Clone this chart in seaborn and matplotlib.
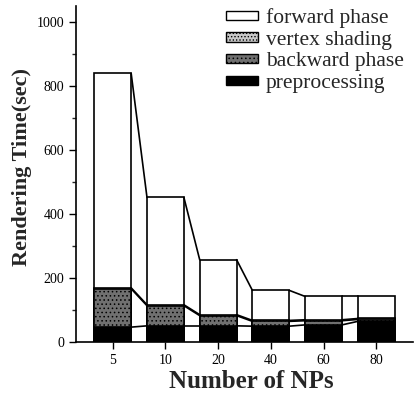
import numpy as np
import pandas as pd
import matplotlib.pyplot as plt
import seaborn as sns
from matplotlib.patches import Patch
from matplotlib.ticker import MultipleLocator

# =====================================================
# Data
# =====================================================
nps = ["5", "10", "20", "40", "60", "80"]
preprocessing = [46, 50, 50, 49, 53, 64]
backward_phase = [120, 63, 32, 15, 13, 6]
vertex_shading = [3, 3, 3, 3, 3, 3]
forward_phase = [671, 336, 172, 94, 73, 69]

layers = ["preprocessing", "backward phase", "vertex shading", "forward phase"]
legend_order = ["forward phase", "vertex shading", "backward phase", "preprocessing"]
styles = {
    "forward phase": dict(color="white", hatch=None),
    "vertex shading": dict(color="#c8c8c8", hatch="....."),
    "backward phase": dict(color="#707070", hatch="...."),
    "preprocessing": dict(color="black", hatch=None),
}

df = pd.DataFrame({
    "NPs": nps,
    "preprocessing": preprocessing,
    "backward phase": backward_phase,
    "vertex shading": vertex_shading,
    "forward phase": forward_phase,
})
cum = df[layers].cumsum(axis=1)

# =====================================================
# Plot
# =====================================================
sns.set_style("ticks")
plt.rcParams['font.family'] = ['Liberation Serif', 'DejaVu Serif']
plt.rcParams['hatch.linewidth'] = 0.6

fig = plt.figure(figsize=(4.19, 3.97), dpi=100)
ax = fig.add_axes([0.181, 0.139, 0.805, 0.845])

# stacked bars: draw cumulative totals from top layer down
for layer in reversed(layers):
    st = styles[layer]
    sns.barplot(x=df["NPs"], y=cum[layer], order=nps, ax=ax, width=0.7,
                color=st["color"], saturation=1, edgecolor="black",
                linewidth=1.2, hatch=st["hatch"])

# connector lines between neighbouring bars at each layer boundary
n = len(nps)
edges = [(i - 0.35, i + 0.35) for i in range(n)]
for layer in layers:
    vals = cum[layer].values
    for i in range(n - 1):
        ax.plot([edges[i][1], edges[i + 1][0]], [vals[i], vals[i + 1]],
                color="black", lw=1.2, zorder=3)

ax.set_xlim(-0.7, 5.7)
ax.set_ylim(0, 1050)
ax.yaxis.set_major_locator(MultipleLocator(200))
ax.yaxis.set_minor_locator(MultipleLocator(100))
ax.tick_params(axis="both", labelsize=10, length=5, width=1, colors="black")
ax.tick_params(axis="y", which="minor", length=3, width=1)
sns.despine(ax=ax)
for s in ["left", "bottom"]:
    ax.spines[s].set_linewidth(1.2)
    ax.spines[s].set_color("black")

ax.set_xlabel("Number of NPs", fontsize=18, fontweight="bold", labelpad=1)
ax.xaxis.set_label_coords(0.52, -0.085)
ax.set_ylabel("Rendering Time(sec)", fontsize=16, fontweight="bold", labelpad=4)
ax.yaxis.set_label_coords(-0.13, 0.52)

handles = [Patch(facecolor=styles[l]["color"], edgecolor="black",
                 hatch=styles[l]["hatch"], linewidth=1) for l in legend_order]
ax.legend(handles, legend_order, loc="upper right", frameon=False,
          fontsize=15.5, handlelength=1.5, handleheight=0.28,
          labelspacing=0.12, handletextpad=0.35,
          bbox_to_anchor=(0.998, 1.02), borderaxespad=0.0)

plt.savefig("out.png", dpi=100)
